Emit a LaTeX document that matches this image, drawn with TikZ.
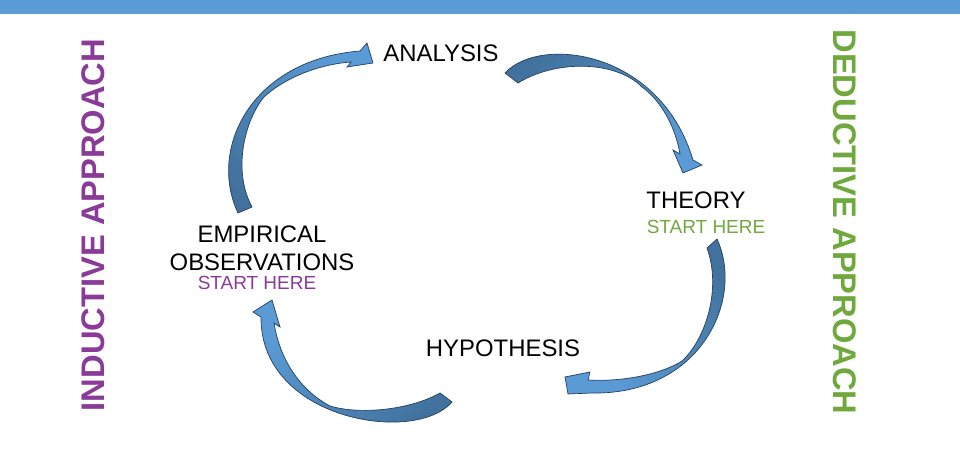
\documentclass[tikz,border=0pt]{standalone}
\usepackage{fontspec}
\setmainfont{Liberation Sans}
\usepackage{xcolor}
\definecolor{barblue}{HTML}{5B9BD5}
\definecolor{arrlight}{HTML}{5B9BD5}
\definecolor{arrdark}{HTML}{41719C}
\definecolor{arredge}{HTML}{24405E}
\definecolor{indpurple}{HTML}{8A3B97}
\definecolor{dedgreen}{HTML}{6FA83C}

\begin{document}
\begin{tikzpicture}[x=0.02cm,y=-0.02cm,inner sep=0pt,
    lbl/.style={anchor=base,align=center,font=\fontsize{13.6}{16.4}\selectfont},
    starthere/.style={anchor=base,font=\fontsize{10.8}{13}\selectfont},
    approach/.style={font=\bfseries\fontsize{18.6}{22}\selectfont},
    bigarr/.style={draw=arredge,line width=.4pt,top color=arrlight,bottom color=arrdark}]
    \useasboundingbox (0,0) rectangle (960,462);
    \fill[barblue] (0,0) rectangle (960,14);
    %%
    \node[approach,indpurple,rotate=90] (ind) at (93,225) {INDUCTIVE APPROACH};
    \node[approach,dedgreen,rotate=-90] (ded) at (845,222) {DEDUCTIVE APPROACH};
    %%
    \node[lbl] (an) at (441,62) {ANALYSIS};
    \node[lbl] (th) at (696,209) {THEORY};
    \node[starthere,dedgreen] (thS) at (706,234) {START HERE};
    \node[lbl] (emp) at (262,271) {EMPIRICAL\\OBSERVATIONS};
    \node[starthere,indpurple] (empS) at (257,290) {START HERE};
    \node[lbl] (hy) at (503,357) {HYPOTHESIS};
    %%
    \draw[bigarr,shading angle=-45] (238,213) .. controls (208,150) and (250,60) .. (360,51)
      -- (367,43) -- (373,63) -- (347,67) -- (351,62)
      .. controls (322,64) and (287,76) .. (264,97)
      .. controls (245,120) and (232,170) .. (252,207) -- cycle;
    \draw[bigarr,shading angle=-135] (505,73) .. controls (540,35) and (660,50) .. (693,160)
      -- (702,165) -- (683,173) -- (673,150) -- (680,154)
      .. controls (675,125) and (660,100) .. (642,87)
      .. controls (615,60) and (555,60) .. (518,83) -- cycle;
    \draw[bigarr,shading angle=135] (717,239) .. controls (745,300) and (700,395) .. (592,393)
      -- (568,394) -- (565,377) -- (590,372) -- (588,380)
      .. controls (620,382) and (660,375) .. (682,361)
      .. controls (705,340) and (722,290) .. (707,248) -- cycle;
    \draw[bigarr,shading angle=45] (452,402) .. controls (415,445) and (260,420) .. (261,317)
      -- (253,312) -- (272,300) -- (280,327) -- (274,323)
      .. controls (280,360) and (300,390) .. (330,406)
      .. controls (360,415) and (410,410) .. (440,393) -- cycle;
\end{tikzpicture}
\end{document}
